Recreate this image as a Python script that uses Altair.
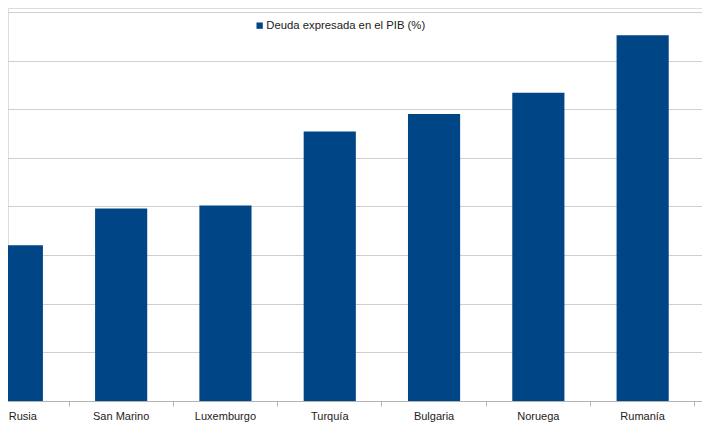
import altair as alt
import pandas as pd

paises = ["Rusia", "San Marino", "Luxemburgo", "Turquía", "Bulgaria", "Noruega", "Rumanía"]
deuda = [16.0, 19.8, 20.1, 27.7, 29.5, 31.7, 37.6]
serie = "Deuda expresada en el PIB (%)"

df = pd.DataFrame({"pais": paises, "deuda": deuda, "serie": [serie] * len(paises)})

dominio_x = paises + [" "]

chart = alt.Chart(df).mark_bar(width=alt.RelativeBandSize(0.5)).encode(
    x=alt.X("pais:N", sort=None, title=None,
            scale=alt.Scale(domain=dominio_x, range=[-43.3, 791.1], paddingInner=0, paddingOuter=0),
            axis=alt.Axis(bandPosition=0, labelAngle=0, labelFontSize=11, labelFont="Liberation Sans",
                          labelColor="#222222", tickColor="#b3b3b3", domainColor="#b3b3b3",
                          tickSize=5, labelPadding=4, grid=False, labelBound=False, labelOverlap=False,
                          labelFlush=False,
                          labelOffset={"condition": {"test": "datum.value === 'Rusia'", "value": 6},
                                       "value": 0})),
    y=alt.Y("deuda:Q", title=None,
            scale=alt.Scale(domain=[0, 40.4], nice=False, zero=True),
            axis=alt.Axis(values=[0, 5, 10, 15, 20, 25, 30, 35, 40], labels=False, ticks=False,
                          domain=False, grid=True, gridColor="#cfcfcf", gridWidth=1)),
    color=alt.Color("serie:N", scale=alt.Scale(range=["#004586"]),
                    legend=alt.Legend(title=None, orient="none", legendX=246, legendY=12,
                                      symbolType="square", symbolSize=40, labelFontSize=11.3,
                                      labelFont="Liberation Sans", labelColor="#222222",
                                      padding=0, labelOffset=1, symbolStrokeWidth=0)),
).properties(
    width=694, height=393,
    padding={"left": 0, "top": 0, "right": 0, "bottom": 25},
    autosize=alt.AutoSizeParams(type="none")
).configure_view(stroke=None).configure(background="white")

chart.save("out.html", embed_options={"renderer": "svg", "actions": False})
